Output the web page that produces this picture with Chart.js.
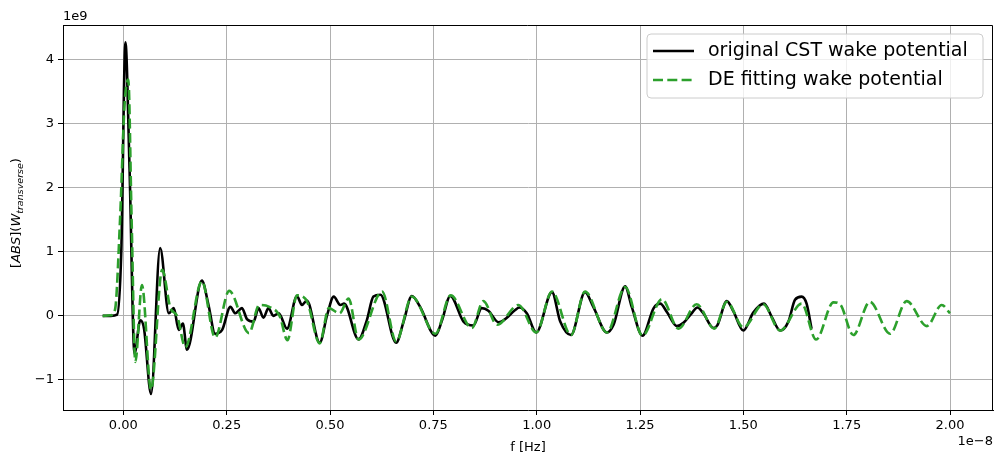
<!DOCTYPE html>
<html>
<head>
<meta charset="utf-8">
<script src="https://cdn.jsdelivr.net/npm/chart.js@4/dist/chart.umd.min.js"></script>
<style>
  html, body { margin: 0; padding: 0; background: #fff; }
  canvas { display: block; }
</style>
</head>
<body>
<canvas id="chart" width="1002" height="463"></canvas>
<script>
// Values (x in units of 1e-8, y in units of 1e9)
var cstX = [-0.05, -0.03, -0.015, -0.005, 0.005, 0.015, 0.027, 0.041, 0.05, 0.067, 0.089, 0.11, 0.122, 0.134, 0.144, 0.154,
  0.19, 0.206, 0.222, 0.239, 0.259, 0.271, 0.287, 0.299, 0.315, 0.327, 0.339, 0.351, 0.363, 0.376, 0.396, 0.42, 0.432, 0.444,
  0.475, 0.493, 0.509, 0.525, 0.534, 0.569, 0.589, 0.605, 0.622, 0.66, 0.678, 0.698, 0.718, 0.755, 0.771, 0.791, 0.823, 0.847,
  0.867, 0.883, 0.908, 0.92, 0.948, 0.958, 0.976, 0.999, 1.037, 1.057, 1.083, 1.117, 1.137, 1.17, 1.186, 1.214, 1.23, 1.256,
  1.283, 1.299, 1.315, 1.339, 1.355, 1.375, 1.389, 1.403, 1.428, 1.437, 1.46, 1.476, 1.5, 1.524, 1.55, 1.569, 1.589, 1.609,
  1.625, 1.641, 1.653, 1.665];
var cstY = [0.0, 0.0, 0.02, 1.0, 4.27, 2.3, -0.59, -0.07, -0.2, -1.22, 1.06, 0.04, 0.12, -0.22, -0.12, -0.53,
  0.55, 0.17, -0.28, -0.22, 0.14, 0.04, 0.12, -0.05, -0.09, 0.12, -0.03, 0.12, 0.0, 0.04, -0.2, 0.31, 0.17, 0.24,
  -0.42, 0.01, 0.3, 0.17, 0.19, -0.37, -0.07, 0.3, 0.33, -0.42, -0.09, 0.31, 0.14, -0.31, -0.07, 0.31, -0.09, -0.15,
  0.12, 0.08, -0.1, -0.07, 0.09, 0.13, 0.04, -0.26, 0.37, -0.09, -0.3, 0.37, 0.14, -0.26, -0.14, 0.46, 0.14, -0.31,
  0.12, 0.19, 0.06, -0.16, -0.11, 0.04, 0.13, 0.04, -0.19, -0.15, 0.23, 0.07, -0.23, 0.05, 0.19, -0.02, -0.23, -0.09,
  0.25, 0.3, 0.19, -0.2];

var deX = [-0.05, -0.03, -0.02, -0.008, 0.003, 0.012, 0.02, 0.029, 0.045, 0.067, 0.094, 0.114, 0.13, 0.15, 0.19, 0.222,
  0.256, 0.304, 0.329, 0.353, 0.378, 0.397, 0.42, 0.444, 0.475, 0.497, 0.523, 0.545, 0.569, 0.626, 0.66, 0.698, 0.755,
  0.792, 0.843, 0.871, 0.904, 0.956, 0.999, 1.037, 1.083, 1.117, 1.17, 1.214, 1.256, 1.303, 1.343, 1.387, 1.43, 1.46,
  1.5, 1.548, 1.589, 1.641, 1.676, 1.718, 1.734, 1.766, 1.806, 1.855, 1.895, 1.944, 1.98, 2.0];
var deY = [0.0, 0.01, 0.1, 1.5, 3.3, 3.69, 1.5, -0.72, 0.48, -1.15, 0.72, 0.12, 0.0, -0.49, 0.54, -0.34,
  0.39, -0.27, 0.17, 0.14, 0.0, -0.38, 0.32, 0.23, -0.43, 0.12, 0.04, 0.27, -0.37, 0.38, -0.4, 0.3, -0.28,
  0.32, -0.19, 0.23, -0.14, 0.17, -0.26, 0.38, -0.3, 0.38, -0.26, 0.45, -0.31, 0.26, -0.2, 0.18, -0.2, 0.22,
  -0.18, 0.18, -0.23, 0.19, -0.37, 0.21, 0.18, -0.3, 0.22, -0.28, 0.23, -0.16, 0.17, 0.04];

var xTicks = [0, 0.25, 0.5, 0.75, 1.0, 1.25, 1.5, 1.75, 2.0];
var yTicks = [-1, 0, 1, 2, 3, 4];
var seriesNames = ["original CST wake potential", "DE fitting wake potential"];

function toPoints(xs, ys) {
  return xs.map(function (x, i) { return { x: x, y: ys[i] }; });
}

var FONT = "'DejaVu Sans', sans-serif";
var GREEN = "#2ca02c";

// top/right spines, offset texts, y label and the boxed legend
var extras = {
  id: "extras",
  afterDraw: function (chart) {
    var ctx = chart.ctx;
    var a = chart.chartArea;
    var L = Math.round(a.left), T = Math.round(a.top), R = Math.round(a.right), B = Math.round(a.bottom);
    ctx.save();
    ctx.strokeStyle = "#000";
    ctx.lineWidth = 1;
    ctx.beginPath();
    ctx.moveTo(L, T + 0.5); ctx.lineTo(R - 0.5, T + 0.5); ctx.lineTo(R - 0.5, B);
    ctx.stroke();

    ctx.fillStyle = "#000";
    ctx.font = "13px " + FONT;
    ctx.textBaseline = "alphabetic";
    ctx.textAlign = "left";
    ctx.fillText("1e9", a.left, 20);
    ctx.textAlign = "right";
    ctx.fillText("1e\u22128", a.right, 445);

    // y label: [ABS](W_transverse)
    ctx.save();
    ctx.translate(20, 213);
    ctx.rotate(-Math.PI / 2);
    var parts = [
      { t: "[", f: "13px " + FONT, dy: 0 },
      { t: "ABS", f: "italic 13px " + FONT, dy: 0 },
      { t: "](", f: "13px " + FONT, dy: 0 },
      { t: "W", f: "italic 13px " + FONT, dy: 0 },
      { t: "transverse", f: "italic 9.5px " + FONT, dy: 3 },
      { t: ")", f: "13px " + FONT, dy: 0 }
    ];
    var total = 0;
    parts.forEach(function (p) { ctx.font = p.f; total += ctx.measureText(p.t).width; });
    var px = -total / 2;
    ctx.textAlign = "left";
    parts.forEach(function (p) {
      ctx.font = p.f;
      ctx.fillText(p.t, px, p.dy);
      px += ctx.measureText(p.t).width;
    });
    ctx.restore();

    // legend box
    var bx = 647, by = 34, bw = 336, bh = 64, r = 4;
    ctx.beginPath();
    ctx.moveTo(bx + r, by);
    ctx.arcTo(bx + bw, by, bx + bw, by + bh, r);
    ctx.arcTo(bx + bw, by + bh, bx, by + bh, r);
    ctx.arcTo(bx, by + bh, bx, by, r);
    ctx.arcTo(bx, by, bx + bw, by, r);
    ctx.closePath();
    ctx.fillStyle = "rgba(255,255,255,0.8)";
    ctx.fill();
    ctx.strokeStyle = "#cccccc";
    ctx.lineWidth = 1;
    ctx.stroke();

    ctx.lineWidth = 2.6;
    ctx.strokeStyle = "#000";
    ctx.setLineDash([]);
    ctx.beginPath(); ctx.moveTo(653, 51); ctx.lineTo(694, 51); ctx.stroke();
    ctx.strokeStyle = GREEN;
    ctx.setLineDash([10, 4.3]);
    ctx.beginPath(); ctx.moveTo(653, 80); ctx.lineTo(694, 80); ctx.stroke();
    ctx.setLineDash([]);

    ctx.fillStyle = "#000";
    ctx.font = "19px " + FONT;
    ctx.textAlign = "left";
    ctx.textBaseline = "middle";
    ctx.fillText(seriesNames[0], 708, 51);
    ctx.fillText(seriesNames[1], 708, 80);
    ctx.restore();
  }
};

new Chart(document.getElementById("chart").getContext("2d"), {
  type: "line",
  data: {
    datasets: [{
      label: seriesNames[0],
      data: toPoints(cstX, cstY),
      borderColor: "#000",
      borderWidth: 2.6,
      pointRadius: 0,
      cubicInterpolationMode: "monotone",
      order: 1
    }, {
      label: seriesNames[1],
      data: toPoints(deX, deY),
      borderColor: GREEN,
      borderWidth: 2.6,
      borderDash: [10, 4.3],
      pointRadius: 0,
      cubicInterpolationMode: "monotone",
      order: 0
    }]
  },
  options: {
    responsive: false,
    devicePixelRatio: 1,
    animation: false,
    layout: { padding: { top: 25, right: 9, left: 0, bottom: 0 } },
    plugins: { legend: { display: false }, tooltip: { enabled: false } },
    scales: {
      x: {
        type: "linear",
        min: -0.146,
        max: 2.104,
        afterBuildTicks: function (s) { s.ticks = xTicks.map(function (v) { return { value: v }; }); },
        afterFit: function (s) { s.height = 53; },
        ticks: {
          color: "#000",
          font: { family: FONT, size: 13 },
          padding: 3,
          maxRotation: 0,
          callback: function (v) { return v.toFixed(2); }
        },
        grid: { color: "#b0b0b0", lineWidth: 1, tickColor: "#000", tickLength: 5 },
        border: { color: "#000", width: 1 },
        title: { display: true, text: "f [Hz]", color: "#000", font: { family: FONT, size: 13 }, padding: { top: 2, bottom: 8 } }
      },
      y: {
        type: "linear",
        min: -1.47,
        max: 4.54,
        afterBuildTicks: function (s) { s.ticks = yTicks.map(function (v) { return { value: v }; }); },
        afterFit: function (s) { s.width = 63; },
        ticks: {
          color: "#000",
          font: { family: FONT, size: 13 },
          padding: 4,
          callback: function (v) { return v < 0 ? "\u2212" + Math.abs(v) : String(v); }
        },
        grid: { color: "#b0b0b0", lineWidth: 1, tickColor: "#000", tickLength: 5 },
        border: { color: "#000", width: 1 }
      }
    }
  },
  plugins: [extras]
});
</script>
</body>
</html>
